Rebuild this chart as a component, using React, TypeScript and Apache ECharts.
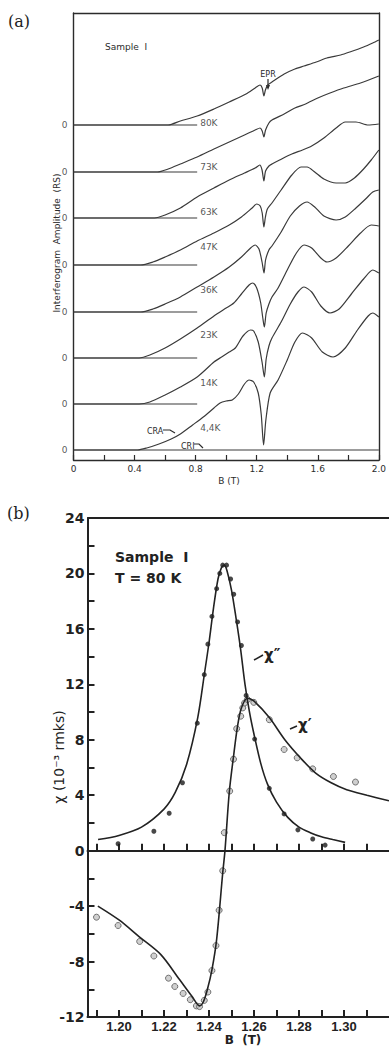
import React, { useEffect, useRef } from "react";
import * as echarts from "echarts";

// ---------- Panel (a): interferogram amplitude traces ----------
const traceLabels = ["80K", "73K", "63K", "47K", "36K", "23K", "14K", "4,4K"];
const traceOffsets = [335, 288, 242, 195, 148, 102, 56, 10];
const traceLabelLift = [2, 5, 6, 18, 22, 23, 21, 22];
const baselineEnd = 0.81;
const aTickLabels = [0, 0.4, 0.8, 1.2, 1.6, 2.0];

const trace80K = [[0,0],[0.62,0],[0.70,4],[0.81,9],[0.92,16],[1.02,23],[1.13,31],[1.19,37],[1.222,40],[1.236,37],[1.247,29],[1.257,35],[1.272,40],[1.30,43],[1.38,51],[1.45,56],[1.51,59],[1.59,63],[1.66,67],[1.75,70],[1.81,73],[1.90,78],[1.96,82],[2.0,85]];
const trace73K = [[0,0],[0.55,0],[0.62,3],[0.70,8],[0.81,15],[0.92,23],[1.02,30],[1.12,37],[1.19,42],[1.222,44],[1.236,41],[1.247,35],[1.258,42],[1.28,49],[1.30,52],[1.38,58],[1.45,64],[1.52,68],[1.60,74],[1.68,79],[1.77,84],[1.88,89],[2.0,96]];
const trace63K = [[0,0],[0.53,0],[0.60,3],[0.70,10],[0.81,21],[0.92,30],[1.02,38],[1.12,45],[1.19,50],[1.22,53],[1.235,48],[1.247,37],[1.258,47],[1.28,52],[1.30,54],[1.35,58],[1.43,64],[1.50,68],[1.56,72],[1.64,80],[1.72,90],[1.78,96],[1.85,96],[1.93,93],[2.0,94]];
const trace47K = [[0,0],[0.44,0],[0.52,3],[0.60,8],[0.70,15],[0.81,24],[0.92,32],[1.02,40],[1.10,48],[1.17,57],[1.20,61],[1.223,59],[1.236,52],[1.247,38],[1.257,48],[1.27,56],[1.30,62],[1.36,75],[1.43,90],[1.49,98],[1.53,98],[1.58,93],[1.64,86],[1.72,82],[1.78,82],[1.84,87],[1.90,96],[1.95,105],[2.0,115]];
const trace36K = [[0,0],[0.44,0],[0.52,3],[0.60,8],[0.70,15],[0.81,25],[0.92,35],[1.02,45],[1.10,55],[1.16,64],[1.19,67],[1.215,63],[1.235,50],[1.248,39],[1.258,52],[1.28,62],[1.30,66],[1.36,80],[1.42,96],[1.48,106],[1.53,110],[1.58,105],[1.64,96],[1.72,92],[1.78,95],[1.85,104],[1.92,114],[1.96,120],[2.0,122]];
const trace23K = [[0,0],[0.43,0],[0.50,3],[0.60,10],[0.70,19],[0.81,30],[0.92,42],[1.00,50],[1.05,55],[1.10,64],[1.15,73],[1.175,75],[1.20,70],[1.225,56],[1.24,40],[1.25,31],[1.262,45],[1.28,54],[1.30,61],[1.34,70],[1.40,88],[1.46,105],[1.51,113],[1.56,110],[1.62,100],[1.66,96],[1.72,100],[1.80,112],[1.88,125],[1.95,133],[2.0,132]];
const trace14K = [[0,0],[0.43,0],[0.50,2],[0.60,9],[0.70,17],[0.81,27],[0.92,42],[0.97,47],[1.02,52],[1.06,56],[1.11,68],[1.16,74],[1.18,73],[1.21,62],[1.235,42],[1.25,27],[1.262,45],[1.28,58],[1.30,66],[1.36,82],[1.42,100],[1.47,112],[1.51,117],[1.56,112],[1.62,98],[1.68,91],[1.74,95],[1.82,110],[1.90,125],[1.96,134],[2.0,131]];
const trace4K = [[0,0],[0.42,0],[0.48,2],[0.56,6],[0.64,11],[0.70,16],[0.78,25],[0.85,33],[0.92,42],[0.96,47],[1.00,49],[1.04,50],[1.08,56],[1.12,66],[1.15,70],[1.18,68],[1.21,57],[1.23,35],[1.245,5],[1.26,30],[1.288,57],[1.34,70],[1.40,90],[1.45,108],[1.50,117],[1.56,112],[1.63,98],[1.70,93],[1.78,102],[1.86,120],[1.93,134],[1.96,137],[2.0,133]];
const traces = [trace80K, trace73K, trace63K, trace47K, trace36K, trace23K, trace14K, trace4K];

// ---------- Panel (b): susceptibility at 80 K ----------
const bTickValues = [1.19,1.20,1.21,1.22,1.23,1.24,1.25,1.26,1.27,1.28,1.29,1.30,1.31];
const bTickLabels = [1.20,1.22,1.24,1.26,1.28,1.30];
const bYLabels = [-12,-8,-4,0,4,8,12,16,20,24];

const chi2Curve = [[1.1907,0.8],[1.20,1.1],[1.21,1.7],[1.22,3.0],[1.225,4.2],[1.23,6.2],[1.235,9.6],[1.238,12.8],[1.240,15.0],[1.242,17.5],[1.244,19.6],[1.2455,20.4],[1.2468,20.6],[1.248,20.2],[1.250,18.8],[1.252,16.8],[1.254,14.6],[1.256,12.0],[1.258,10.0],[1.260,8.4],[1.263,6.3],[1.266,4.8],[1.270,3.5],[1.275,2.4],[1.280,1.7],[1.285,1.3],[1.290,1.0],[1.295,0.8],[1.3005,0.6]];
const chi2Dots = [[1.1996,0.5],[1.2155,1.4],[1.2223,2.7],[1.2282,4.9],[1.2348,9.2],[1.2379,12.7],[1.2395,14.9],[1.2413,16.9],[1.2434,18.9],[1.2448,20.0],[1.2461,20.6],[1.2478,20.6],[1.2496,19.6],[1.251,18.5],[1.2527,16.5],[1.2544,14.8],[1.2565,11.2],[1.2603,8.05],[1.2668,4.5],[1.2734,2.65],[1.2795,1.5],[1.2861,0.84],[1.2916,0.4]];
const chi1Curve = [[1.1906,-4.0],[1.20,-5.0],[1.2089,-6.2],[1.2186,-7.5],[1.2269,-9.3],[1.2324,-10.5],[1.2358,-11.2],[1.2375,-10.9],[1.2393,-10.0],[1.2413,-8.6],[1.2434,-6.4],[1.2461,-1.6],[1.2471,0],[1.249,4.2],[1.2509,6.8],[1.2527,9.0],[1.2544,10.3],[1.2571,11.0],[1.2599,10.8],[1.2668,9.6],[1.2737,8.0],[1.2806,6.7],[1.2874,5.6],[1.2943,4.9],[1.3012,4.4],[1.3102,4.0],[1.32,3.6]];
const chi1Dots = [[1.19,-4.8],[1.1996,-5.4],[1.2092,-6.55],[1.2155,-7.6],[1.222,-9.2],[1.2248,-9.8],[1.2285,-10.3],[1.2317,-10.75],[1.2344,-11.2],[1.2358,-11.25],[1.2379,-10.8],[1.2395,-10.2],[1.2413,-8.65],[1.2431,-6.85],[1.2445,-4.3],[1.2461,-1.45],[1.2468,1.3],[1.2492,4.3],[1.2509,6.6],[1.2523,8.8],[1.2541,9.7],[1.255,10.3],[1.2558,10.65],[1.2571,10.9],[1.2599,10.7],[1.2668,9.45],[1.2734,7.3],[1.2792,6.7],[1.2861,5.9],[1.2953,5.35],[1.3051,4.95]];

const INK = "#2b2b2b";
const SANS = "DejaVu Sans";

function buildOption() {
  const series: any[] = [];
  traces.forEach((tr, i) => {
    const off = traceOffsets[i];
    series.push({
      type: "line", xAxisIndex: 0, yAxisIndex: 0, smooth: 0.25, symbol: "none",
      lineStyle: { color: "#3a3a3a", width: 1.2 },
      data: tr.map(([x, a]) => [x, a + off]),
      silent: true,
    });
    series.push({
      type: "line", xAxisIndex: 0, yAxisIndex: 0, symbol: "none",
      lineStyle: { color: "#3a3a3a", width: 1.2 },
      data: [[0, off], [i === traces.length - 1 ? 2.0 : baselineEnd, off]],
      silent: true,
    });
  });
  series.push({
    type: "scatter", xAxisIndex: 0, yAxisIndex: 0, symbolSize: 0, silent: true,
    data: traceOffsets.map((o) => [0, o]),
    label: { show: true, position: "left", distance: 6, formatter: "0", fontSize: 9, fontFamily: SANS, color: INK },
  });
  series.push({
    type: "scatter", xAxisIndex: 0, yAxisIndex: 0, symbolSize: 0, silent: true,
    data: traceOffsets.map((o, i) => ({ value: [baselineEnd, o + traceLabelLift[i]], name: traceLabels[i] })),
    label: { show: true, position: "right", distance: 3, formatter: (p: any) => p.name, fontSize: 9, fontFamily: SANS, color: INK },
  });

  // panel b
  series.push({
    type: "line", xAxisIndex: 2, yAxisIndex: 2, smooth: 0.3, symbol: "none",
    lineStyle: { color: "#222", width: 1.6 }, data: chi2Curve, silent: true,
    markLine: { silent: true, symbol: "none", label: { show: false }, lineStyle: { color: "#222", width: 2, type: "solid" }, data: [{ yAxis: 24 }] },
  });
  series.push({
    type: "line", xAxisIndex: 2, yAxisIndex: 2, smooth: 0.3, symbol: "none",
    lineStyle: { color: "#222", width: 1.6 }, data: chi1Curve, silent: true,
  });
  series.push({
    type: "scatter", xAxisIndex: 2, yAxisIndex: 2, symbol: "circle", symbolSize: 6,
    itemStyle: { color: "#c4c4c4", borderColor: "#555", borderWidth: 1 }, data: chi1Dots, silent: true,
  });
  series.push({
    type: "scatter", xAxisIndex: 2, yAxisIndex: 2, symbol: "circle", symbolSize: 5,
    itemStyle: { color: "#1a1a1a" }, data: chi2Dots, silent: true,
  });

  const axisA = { lineStyle: { color: INK, width: 1.4 } };
  const axisB = { lineStyle: { color: "#222", width: 2 } };

  return {
    animation: false,
    backgroundColor: "#ffffff",
    grid: [
      { left: 73.5, top: 13, width: 313, height: 447 },
      { left: 87.5, top: 518, width: 324.3, height: 499 },
    ],
    xAxis: [
      {
        type: "value", gridIndex: 0, position: "bottom", min: 0, max: 2.0, interval: 0.2,
        axisLine: { onZero: false, ...axisA },
        axisTick: { inside: true, length: 5, lineStyle: { color: INK, width: 1.2 } },
        axisLabel: { customValues: aTickLabels, formatter: (v: number) => (v === 0 ? "0" : v.toFixed(1)), fontSize: 9, fontFamily: SANS, color: INK, margin: 4 },
        splitLine: { show: false },
      },
      {
        type: "value", gridIndex: 0, position: "top", min: 0, max: 2.0,
        axisLine: { onZero: false, ...axisA }, axisTick: { show: false }, axisLabel: { show: false }, splitLine: { show: false },
      },
      {
        type: "value", gridIndex: 1, position: "bottom", min: 1.186, max: 1.32,
        axisLine: { onZero: false, ...axisB },
        axisTick: { inside: true, length: 7, customValues: bTickValues, lineStyle: { color: "#222", width: 2 } },
        axisLabel: { customValues: bTickLabels, formatter: (v: number) => v.toFixed(2), fontSize: 13, fontWeight: "bold", fontFamily: "Liberation Sans", color: "#222", margin: 3 },
        splitLine: { show: false },
      },
      {
        type: "value", gridIndex: 1, position: "top", min: 1.186, max: 1.32,
        axisLine: { onZero: true, ...axisB },
        axisTick: { inside: false, length: 7, customValues: bTickValues, lineStyle: { color: "#222", width: 2 } },
        axisLabel: { show: false }, splitLine: { show: false },
      },
    ],
    yAxis: [
      {
        type: "value", gridIndex: 0, position: "left", min: 0, max: 447,
        axisLine: { onZero: false, ...axisA }, axisTick: { show: false }, axisLabel: { show: false }, splitLine: { show: false },
      },
      {
        type: "value", gridIndex: 0, position: "right", min: 0, max: 447,
        axisLine: { onZero: false, ...axisA }, axisTick: { show: false }, axisLabel: { show: false }, splitLine: { show: false },
      },
      {
        type: "value", gridIndex: 1, position: "left", min: -12, max: 24, interval: 2,
        axisLine: { onZero: false, ...axisB },
        axisTick: { inside: true, length: 7, lineStyle: { color: "#222", width: 2 } },
        axisLabel: { customValues: bYLabels, fontSize: 14, fontWeight: "bold", fontFamily: SANS, color: "#222", margin: 3 },
        splitLine: { show: false },
      },
    ],
    series,
    graphic: [
      { type: "text", x: 8, y: 21, style: { text: "(a)", fontSize: 16, fontFamily: "DejaVu Serif", fill: "#222", verticalAlign: "middle" } },
      { type: "text", x: 7, y: 513, style: { text: "(b)", fontSize: 16, fontFamily: "DejaVu Serif", fill: "#222", verticalAlign: "middle" } },
      { type: "text", x: 105, y: 47, style: { text: "Sample  I", fontSize: 9, fontFamily: SANS, fill: INK, verticalAlign: "middle" } },
      { type: "text", x: 268, y: 74, style: { text: "EPR", fontSize: 8, fontFamily: SANS, fill: INK, align: "center", verticalAlign: "middle" } },
      { type: "line", shape: { x1: 268, y1: 79, x2: 268, y2: 87 }, style: { stroke: INK, lineWidth: 1.2 } },
      { type: "polygon", shape: { points: [[266, 85], [270, 85], [268, 90]] }, style: { fill: INK } },
      { type: "text", x: 147, y: 431, style: { text: "CRA", fontSize: 8, fontFamily: SANS, fill: INK, verticalAlign: "middle" } },
      { type: "polyline", shape: { points: [[163, 430], [170, 430], [175, 433]] }, style: { stroke: INK, lineWidth: 1.2, fill: null } },
      { type: "text", x: 181, y: 446, style: { text: "CRI", fontSize: 8, fontFamily: SANS, fill: INK, verticalAlign: "middle" } },
      { type: "polyline", shape: { points: [[194, 444], [199, 444], [203, 448]] }, style: { stroke: INK, lineWidth: 1.2, fill: null } },
      { type: "text", x: 57, y: 243, rotation: Math.PI / 2, style: { text: "Interferogram  Amplitude  (RS)", fontSize: 9, fontFamily: SANS, fill: INK, align: "center", verticalAlign: "middle" } },
      { type: "text", x: 229, y: 481, style: { text: "B (T)", fontSize: 9, fontFamily: SANS, fill: INK, align: "center", verticalAlign: "middle" } },
      { type: "text", x: 115, y: 557, style: { text: "Sample  I", fontSize: 14, fontWeight: "bold", fontFamily: SANS, fill: "#222", verticalAlign: "middle" } },
      { type: "text", x: 115, y: 578, style: { text: "T = 80 K", fontSize: 14, fontWeight: "bold", fontFamily: SANS, fill: "#222", verticalAlign: "middle" } },
      { type: "line", shape: { x1: 254, y1: 660, x2: 263, y2: 655 }, style: { stroke: "#222", lineWidth: 1.5 } },
      { type: "text", x: 264, y: 655, style: { text: "χ″", fontSize: 15, fontWeight: "bold", fontFamily: SANS, fill: "#222", verticalAlign: "middle" } },
      { type: "line", shape: { x1: 290, y1: 729, x2: 297, y2: 726 }, style: { stroke: "#222", lineWidth: 1.5 } },
      { type: "text", x: 298, y: 725, style: { text: "χ′", fontSize: 15, fontWeight: "bold", fontFamily: SANS, fill: "#222", verticalAlign: "middle" } },
      { type: "text", x: 59, y: 757, rotation: Math.PI / 2, style: { text: "χ (10⁻³ rmks)", fontSize: 14, fontFamily: SANS, fill: "#222", align: "center", verticalAlign: "middle" } },
      { type: "text", x: 243, y: 1040, style: { text: "B  (T)", fontSize: 12, fontWeight: "bold", fontFamily: SANS, fill: "#222", align: "center", verticalAlign: "middle" } },
    ],
  };
}

export default function App() {
  const ref = useRef<HTMLDivElement>(null);
  useEffect(() => {
    if (!ref.current) return;
    const chart = echarts.init(ref.current, undefined, { renderer: "svg" });
    chart.setOption(buildOption() as any);
    return () => chart.dispose();
  }, []);
  return (
    <div
      ref={ref}
      style={{ position: "absolute", left: 0, top: 0, width: 389, height: 1048, background: "#fff" }}
    />
  );
}
